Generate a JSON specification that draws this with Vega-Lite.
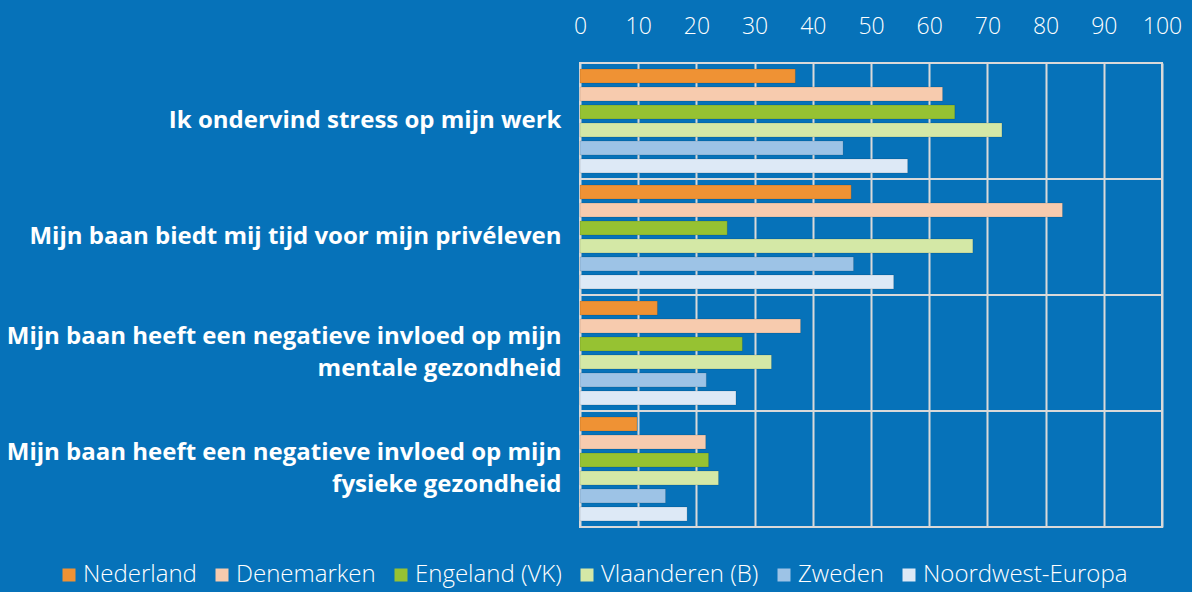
{
  "$schema": "https://vega.github.io/schema/vega-lite/v6.json",
  "width": 582,
  "height": 464,
  "autosize": {"type": "none"},
  "padding": {"left": 580, "top": 63, "right": 30, "bottom": 65},
  "background": "#0672b9",
  "config": {"view": {"stroke": "#d9d9d9", "strokeWidth": 2}, "font": "Open Sans"},
  "data": {
    "values": [
      {"stelling": "Ik ondervind stress op mijn werk\u00a0", "land": "Nederland", "waarde": 37.0},
      {"stelling": "Ik ondervind stress op mijn werk\u00a0", "land": "Denemarken", "waarde": 62.3},
      {"stelling": "Ik ondervind stress op mijn werk\u00a0", "land": "Engeland (VK)", "waarde": 64.4},
      {"stelling": "Ik ondervind stress op mijn werk\u00a0", "land": "Vlaanderen (B)", "waarde": 72.5},
      {"stelling": "Ik ondervind stress op mijn werk\u00a0", "land": "Zweden", "waarde": 45.2},
      {"stelling": "Ik ondervind stress op mijn werk\u00a0", "land": "Noordwest-Europa", "waarde": 56.3},
      {"stelling": "Mijn baan biedt mij tijd voor mijn privéleven", "land": "Nederland", "waarde": 46.6},
      {"stelling": "Mijn baan biedt mij tijd voor mijn privéleven", "land": "Denemarken", "waarde": 82.9},
      {"stelling": "Mijn baan biedt mij tijd voor mijn privéleven", "land": "Engeland (VK)", "waarde": 25.3},
      {"stelling": "Mijn baan biedt mij tijd voor mijn privéleven", "land": "Vlaanderen (B)", "waarde": 67.5},
      {"stelling": "Mijn baan biedt mij tijd voor mijn privéleven", "land": "Zweden", "waarde": 47.0},
      {"stelling": "Mijn baan biedt mij tijd voor mijn privéleven", "land": "Noordwest-Europa", "waarde": 53.9},
      {"stelling": "Mijn baan heeft een negatieve invloed op mijn mentale gezondheid", "land": "Nederland", "waarde": 13.3},
      {"stelling": "Mijn baan heeft een negatieve invloed op mijn mentale gezondheid", "land": "Denemarken", "waarde": 37.9},
      {"stelling": "Mijn baan heeft een negatieve invloed op mijn mentale gezondheid", "land": "Engeland (VK)", "waarde": 27.9},
      {"stelling": "Mijn baan heeft een negatieve invloed op mijn mentale gezondheid", "land": "Vlaanderen (B)", "waarde": 32.9},
      {"stelling": "Mijn baan heeft een negatieve invloed op mijn mentale gezondheid", "land": "Zweden", "waarde": 21.7},
      {"stelling": "Mijn baan heeft een negatieve invloed op mijn mentale gezondheid", "land": "Noordwest-Europa", "waarde": 26.8},
      {"stelling": "Mijn baan heeft een negatieve invloed op mijn fysieke gezondheid", "land": "Nederland", "waarde": 9.8},
      {"stelling": "Mijn baan heeft een negatieve invloed op mijn fysieke gezondheid", "land": "Denemarken", "waarde": 21.6},
      {"stelling": "Mijn baan heeft een negatieve invloed op mijn fysieke gezondheid", "land": "Engeland (VK)", "waarde": 22.1},
      {"stelling": "Mijn baan heeft een negatieve invloed op mijn fysieke gezondheid", "land": "Vlaanderen (B)", "waarde": 23.8},
      {"stelling": "Mijn baan heeft een negatieve invloed op mijn fysieke gezondheid", "land": "Zweden", "waarde": 14.7},
      {"stelling": "Mijn baan heeft een negatieve invloed op mijn fysieke gezondheid", "land": "Noordwest-Europa", "waarde": 18.4}
    ]
  },
  "layer": [
    {
      "mark": {"type": "rule", "color": "#d9d9d9", "strokeWidth": 2},
      "encoding": {
        "y": {"field": "stelling", "type": "nominal", "sort": null, "bandPosition": 0}
      }
    },
    {
      "mark": {"type": "bar", "stroke": "#000000", "strokeOpacity": 0.12, "strokeWidth": 1},
      "encoding": {
        "y": {
          "field": "stelling",
          "type": "nominal",
          "sort": null,
          "scale": {"paddingInner": 0, "paddingOuter": 0},
          "axis": {
            "title": null,
            "labelExpr": "length(datum.value) > 50 ? [substring(datum.value, 0, 45), substring(datum.value, 46)] : datum.value",
            "labelColor": "white",
            "labelFontWeight": "bold",
            "labelFontSize": 24,
            "labelLimit": 0,
            "labelPadding": 19,
            "labelLineHeight": 32,
            "labelOffset": {"condition": {"test": "length(datum.value) > 50", "value": -16}, "value": 0},
            "domain": false,
            "ticks": false,
            "grid": false
          }
        },
        "yOffset": {
          "field": "land",
          "type": "nominal",
          "sort": ["Nederland", "Denemarken", "Engeland (VK)", "Vlaanderen (B)", "Zweden", "Noordwest-Europa"],
          "scale": {"paddingInner": 0.22, "paddingOuter": 0.34}
        },
        "x": {
          "field": "waarde",
          "type": "quantitative",
          "stack": null,
          "scale": {"domain": [0, 100]},
          "axis": {
            "orient": "top",
            "title": null,
            "values": [0, 10, 20, 30, 40, 50, 60, 70, 80, 90, 100],
            "labelColor": "white",
            "labelFontSize": 23,
            "labelFontWeight": 300,
            "labelPadding": 25,
            "labelFlush": false,
            "labelOverlap": false,
            "domain": false,
            "ticks": false,
            "grid": true,
            "gridColor": "#d9d9d9",
            "gridWidth": 2,
            "gridOpacity": 1
          }
        },
        "color": {
          "field": "land",
          "type": "nominal",
          "scale": {
            "domain": ["Nederland", "Denemarken", "Engeland (VK)", "Vlaanderen (B)", "Zweden", "Noordwest-Europa"],
            "range": ["#ef9234", "#f7cbae", "#96c232", "#d4e8a6", "#9dc3e6", "#dde9f6"]
          },
          "legend": {
            "title": null,
            "orient": "none",
            "direction": "horizontal",
            "legendX": -523,
            "legendY": 500,
            "padding": 0,
            "symbolType": "square",
            "symbolSize": 169,
            "symbolStrokeWidth": 0,
            "labelColor": "white",
            "labelFontSize": 24,
            "labelFontWeight": 300,
            "labelOffset": 2,
            "columnPadding": 13,
            "labelLimit": 0
          }
        }
      }
    }
  ]
}
